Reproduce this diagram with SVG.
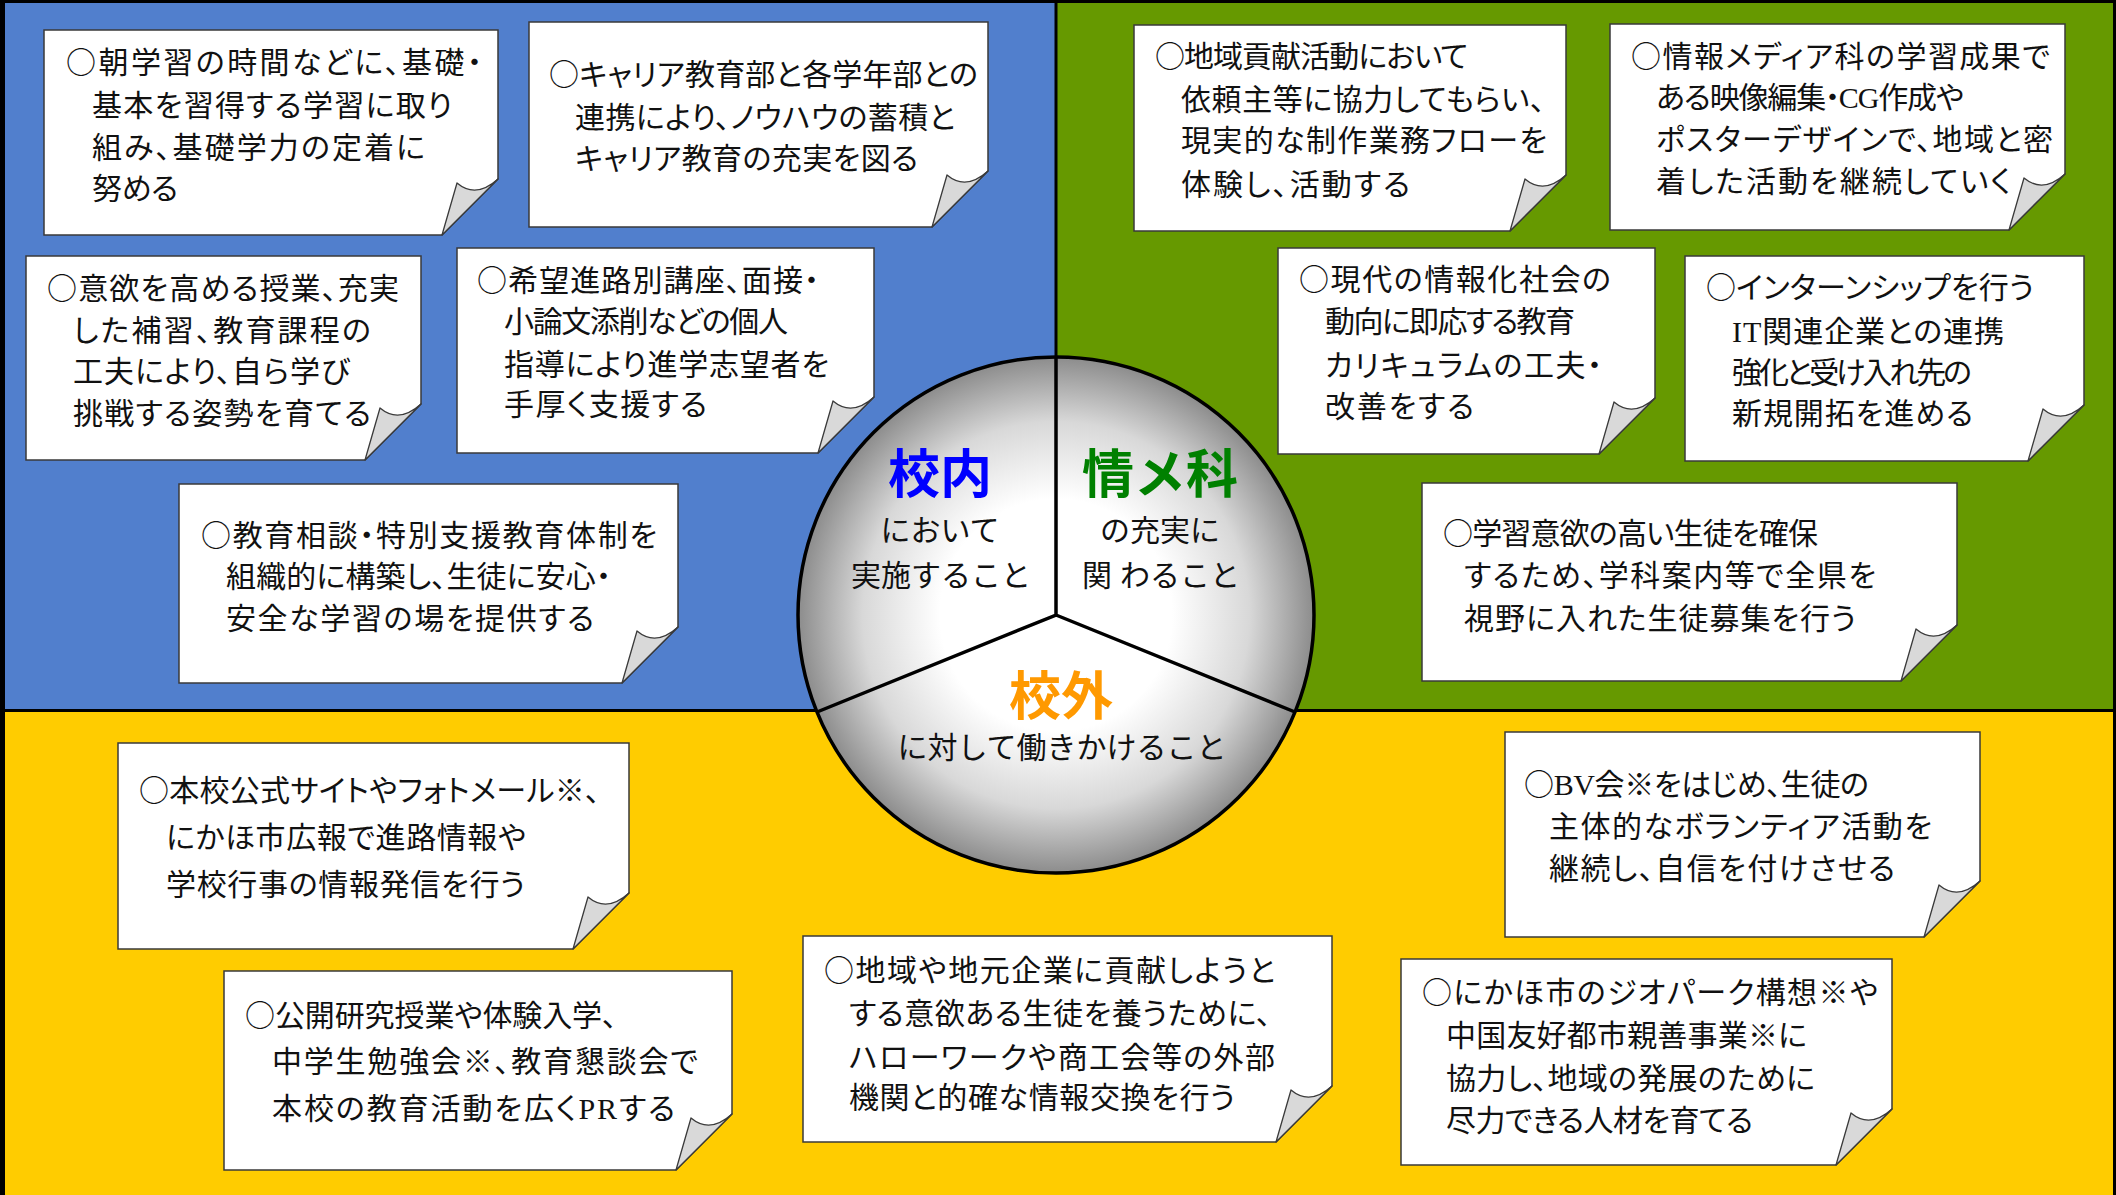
<svg xmlns="http://www.w3.org/2000/svg" width="2116" height="1195" viewBox="0 0 2116 1195">
<style>
.box{fill:#fff;stroke:#3a3a3a;stroke-width:1.5}
.flap{fill:#d9d9d9;stroke:#3a3a3a;stroke-width:1.3;stroke-linejoin:round}
.t{font-family:"Liberation Serif","Noto Sans CJK JP",serif;font-size:30px;fill:#111;font-feature-settings:"palt"}
.c{font-family:"Noto Sans CJK JP",sans-serif;font-feature-settings:normal}
.big{font-family:"Noto Sans CJK JP",sans-serif;font-size:52px;font-weight:bold;text-anchor:middle}
.sub{font-family:"Noto Sans CJK JP",sans-serif;font-size:30px;fill:#111;text-anchor:middle}
.div{stroke:#000;stroke-width:3.5;fill:none}
</style>
<defs>
<radialGradient id="sphere" cx="0.5" cy="0.5" r="0.5">
<stop offset="0" stop-color="#ffffff"/>
<stop offset="0.45" stop-color="#ffffff"/>
<stop offset="0.75" stop-color="#d8d8d8"/>
<stop offset="1" stop-color="#8c8c8c"/>
</radialGradient>
</defs>
<g id="background">
<rect x="0" y="0" width="2116" height="1195" fill="#000"/>
<rect x="5" y="3" width="1049.5" height="706" fill="#517fcd"/>
<rect x="1057.5" y="3" width="1055.5" height="706" fill="#669900"/>
<rect x="5" y="712" width="2108" height="483" fill="#ffcc00"/>
</g>

<g id="note1">
<path class="box" d="M44 30H498V179L442 235H44Z"/>
<path class="flap" d="M498 179Q476 199 457 183L442 235Z"/>
<text class="t" x="66" y="73" textLength="416"><tspan class="c">○</tspan>朝学習の時間などに、基礎・</text>
<text class="t" x="92" y="116" textLength="360">基本を習得する学習に取り</text>
<text class="t" x="92" y="158" textLength="333">組み、基礎学力の定着に</text>
<text class="t" x="92" y="199" textLength="86">努める</text>
</g>
<g id="note2">
<path class="box" d="M529 22H988V171L932 227H529Z"/>
<path class="flap" d="M988 171Q966 191 947 175L932 227Z"/>
<text class="t" x="549" y="85" textLength="429"><tspan class="c">○</tspan>キャリア教育部と各学年部との</text>
<text class="t" x="575" y="128" textLength="380">連携により、ノウハウの蓄積と</text>
<text class="t" x="575" y="169" textLength="343">キャリア教育の充実を図る</text>
</g>
<g id="note3">
<path class="box" d="M26 256H421V404L365 460H26Z"/>
<path class="flap" d="M421 404Q399 424 380 408L365 460Z"/>
<text class="t" x="47" y="299" textLength="352"><tspan class="c">○</tspan>意欲を高める授業、充実</text>
<text class="t" x="73" y="341" textLength="298">した補習、教育課程の</text>
<text class="t" x="73" y="382" textLength="277">工夫により、自ら学び</text>
<text class="t" x="73" y="424" textLength="298">挑戦する姿勢を育てる</text>
</g>
<g id="note4">
<path class="box" d="M457 248H874V397L818 453H457Z"/>
<path class="flap" d="M874 397Q852 417 833 401L818 453Z"/>
<text class="t" x="477" y="291" textLength="342"><tspan class="c">○</tspan>希望進路別講座、面接・</text>
<text class="t" x="504" y="332" textLength="284">小論文添削などの個人</text>
<text class="t" x="504" y="375" textLength="325">指導により進学志望者を</text>
<text class="t" x="504" y="415" textLength="203">手厚く支援する</text>
</g>
<g id="note5">
<path class="box" d="M179 484H678V627L622 683H179Z"/>
<path class="flap" d="M678 627Q656 647 637 631L622 683Z"/>
<text class="t" x="201" y="546" textLength="456"><tspan class="c">○</tspan>教育相談・特別支援教育体制を</text>
<text class="t" x="226" y="587" textLength="385">組織的に構築し、生徒に安心・</text>
<text class="t" x="226" y="629" textLength="368">安全な学習の場を提供する</text>
</g>

<g id="note6">
<path class="box" d="M1134 25H1566V175L1510 231H1134Z"/>
<path class="flap" d="M1566 175Q1544 195 1525 179L1510 231Z"/>
<text class="t" x="1155" y="67" textLength="313"><tspan class="c">○</tspan>地域貢献活動において</text>
<text class="t" x="1181" y="110" textLength="364">依頼主等に協力してもらい、</text>
<text class="t" x="1181" y="151" textLength="366">現実的な制作業務フローを</text>
<text class="t" x="1181" y="195" textLength="229">体験し、活動する</text>
</g>
<g id="note7">
<path class="box" d="M1610 24H2065V174L2009 230H1610Z"/>
<path class="flap" d="M2065 174Q2043 194 2024 178L2009 230Z"/>
<text class="t" x="1631" y="67" textLength="419"><tspan class="c">○</tspan>情報メディア科の学習成果で</text>
<text class="t" x="1656" y="108" textLength="308">ある映像編集・CG作成や</text>
<text class="t" x="1656" y="150" textLength="397">ポスターデザインで、地域と密</text>
<text class="t" x="1656" y="192" textLength="355">着した活動を継続していく</text>
</g>
<g id="note8">
<path class="box" d="M1278 248H1655V398L1599 454H1278Z"/>
<path class="flap" d="M1655 398Q1633 418 1614 402L1599 454Z"/>
<text class="t" x="1299" y="290" textLength="312"><tspan class="c">○</tspan>現代の情報化社会の</text>
<text class="t" x="1325" y="332" textLength="250">動向に即応する教育</text>
<text class="t" x="1325" y="376" textLength="277">カリキュラムの工夫・</text>
<text class="t" x="1325" y="417" textLength="149">改善をする</text>
</g>
<g id="note9">
<path class="box" d="M1685 256H2084V405L2028 461H1685Z"/>
<path class="flap" d="M2084 405Q2062 425 2043 409L2028 461Z"/>
<text class="t" x="1706" y="298" textLength="328"><tspan class="c">○</tspan>インターンシップを行う</text>
<text class="t" x="1732" y="342" textLength="272">IT関連企業との連携</text>
<text class="t" x="1732" y="383" textLength="240">強化と受け入れ先の</text>
<text class="t" x="1732" y="424" textLength="241">新規開拓を進める</text>
</g>
<g id="note10">
<path class="box" d="M1422 483H1957V625L1901 681H1422Z"/>
<path class="flap" d="M1957 625Q1935 645 1916 629L1901 681Z"/>
<text class="t" x="1443" y="544" textLength="375"><tspan class="c">○</tspan>学習意欲の高い生徒を確保</text>
<text class="t" x="1464" y="586" textLength="412">するため、学科案内等で全県を</text>
<text class="t" x="1464" y="629" textLength="392">視野に入れた生徒募集を行う</text>
</g>

<g id="note11">
<path class="box" d="M118 743H629V893L573 949H118Z"/>
<path class="flap" d="M629 893Q607 913 588 897L573 949Z"/>
<text class="t" x="139" y="801" textLength="461"><tspan class="c">○</tspan>本校公式サイトやフォトメール※、</text>
<text class="t" x="166" y="848" textLength="360">にかほ市広報で進路情報や</text>
<text class="t" x="166" y="895" textLength="359">学校行事の情報発信を行う</text>
</g>
<g id="note12">
<path class="box" d="M224 971H732V1114L676 1170H224Z"/>
<path class="flap" d="M732 1114Q710 1134 691 1118L676 1170Z"/>
<text class="t" x="245" y="1026" textLength="372"><tspan class="c">○</tspan>公開研究授業や体験入学、</text>
<text class="t" x="272" y="1072" textLength="426">中学生勉強会※、教育懇談会で</text>
<text class="t" x="272" y="1119" textLength="403">本校の教育活動を広くPRする</text>
</g>
<g id="note13">
<path class="box" d="M803 936H1332V1086L1276 1142H803Z"/>
<path class="flap" d="M1332 1086Q1310 1106 1291 1090L1276 1142Z"/>
<text class="t" x="824" y="981" textLength="451"><tspan class="c">○</tspan>地域や地元企業に貢献しようと</text>
<text class="t" x="849" y="1024" textLength="422">する意欲ある生徒を養うために、</text>
<text class="t" x="849" y="1068" textLength="426">ハローワークや商工会等の外部</text>
<text class="t" x="849" y="1108" textLength="386">機関と的確な情報交換を行う</text>
</g>
<g id="note14">
<path class="box" d="M1505 732H1980V881L1924 937H1505Z"/>
<path class="flap" d="M1980 881Q1958 901 1939 885L1924 937Z"/>
<text class="t" x="1524" y="795" textLength="345"><tspan class="c">○</tspan>BV会※をはじめ、生徒の</text>
<text class="t" x="1549" y="837" textLength="383">主体的なボランティア活動を</text>
<text class="t" x="1549" y="879" textLength="346">継続し、自信を付けさせる</text>
</g>
<g id="note15">
<path class="box" d="M1401 959H1892V1109L1836 1165H1401Z"/>
<path class="flap" d="M1892 1109Q1870 1129 1851 1113L1836 1165Z"/>
<text class="t" x="1422" y="1003" textLength="456"><tspan class="c">○</tspan>にかほ市のジオパーク構想※や</text>
<text class="t" x="1446" y="1046" textLength="361">中国友好都市親善事業※に</text>
<text class="t" x="1446" y="1089" textLength="369">協力し、地域の発展のために</text>
<text class="t" x="1446" y="1131" textLength="307">尽力できる人材を育てる</text>
</g>

<g id="hub">
<circle cx="1056" cy="615" r="258" fill="url(#sphere)" stroke="#000" stroke-width="3.5"/>
<path class="div" d="M1056 357V615L817 712M1056 615L1295 712"/>
<text class="big" x="940" y="493" fill="#0000ff">校内</text>
<text class="sub" x="940" y="541">において</text>
<text class="sub" x="941" y="586">実施すること</text>
<text class="big" x="1160" y="493" fill="#008000">情メ科</text>
<text class="sub" x="1160" y="541">の充実に</text>
<text class="sub" x="1161" y="586">関<tspan dx="8">わること</tspan></text>
<text class="big" x="1061" y="715" fill="#ff9900">校外</text>
<text class="sub" x="1062" y="758">に対して働きかけること</text>
</g>
</svg>
